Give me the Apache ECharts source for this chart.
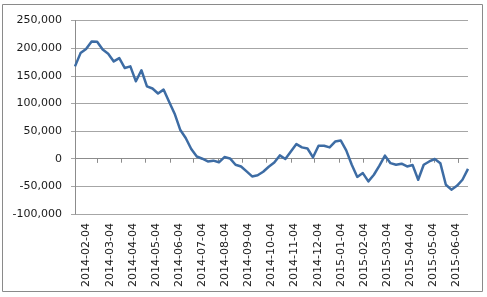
<!DOCTYPE html>
<html>
<head>
<meta charset="utf-8">
<script src="https://cdn.jsdelivr.net/npm/echarts@6/dist/echarts.min.js"></script>
<style>
  html, body { margin: 0; padding: 0; background: #fff; }
  #main { width: 487px; height: 297px; }
</style>
</head>
<body>
<div id="main"></div>
<script>
// weekly dates
var dates = [
  '2014-02-04', '2014-02-11', '2014-02-18', '2014-02-25',
  '2014-03-04', '2014-03-11', '2014-03-18', '2014-03-25',
  '2014-04-01', '2014-04-08', '2014-04-15', '2014-04-22', '2014-04-29',
  '2014-05-06', '2014-05-13', '2014-05-20', '2014-05-27',
  '2014-06-03', '2014-06-10', '2014-06-17', '2014-06-24',
  '2014-07-01', '2014-07-08', '2014-07-15', '2014-07-22', '2014-07-29',
  '2014-08-05', '2014-08-12', '2014-08-19', '2014-08-26',
  '2014-09-02', '2014-09-09', '2014-09-16', '2014-09-23', '2014-09-30',
  '2014-10-07', '2014-10-14', '2014-10-21', '2014-10-28',
  '2014-11-04', '2014-11-11', '2014-11-18', '2014-11-25',
  '2014-12-02', '2014-12-09', '2014-12-16', '2014-12-23', '2014-12-30',
  '2015-01-06', '2015-01-13', '2015-01-20', '2015-01-27',
  '2015-02-03', '2015-02-10', '2015-02-17', '2015-02-24',
  '2015-03-03', '2015-03-10', '2015-03-17', '2015-03-24', '2015-03-31',
  '2015-04-07', '2015-04-14', '2015-04-21', '2015-04-28',
  '2015-05-05', '2015-05-12', '2015-05-19', '2015-05-26',
  '2015-06-02', '2015-06-09', '2015-06-16'
];

var values = [
  167000, 191000, 198500, 212000, 211500, 197500, 190000, 176000,
  182000, 164000, 167000, 140000, 160000, 131000, 127000, 118000,
  125000, 103000, 81500, 52500, 37500, 17500, 4000, 0,
  -5000, -3500, -6500, 3000, 500, -11000, -14000, -23000,
  -32000, -30000, -23500, -14500, -7000, 6000, -500, 13000,
  26500, 20500, 18500, 2500, 23500, 23500, 20500, 31000,
  33000, 15000, -11000, -33000, -26000, -41000, -29000, -12500,
  5500, -8000, -11000, -9000, -14000, -11500, -38000, -11000,
  -5000, -500, -8000, -47000, -56000, -49000, -38000, -18500
];

// month labels on the bottom axis
var monthLabels = [
  '2014-02-04', '2014-03-04', '2014-04-04', '2014-05-04', '2014-06-04',
  '2014-07-04', '2014-08-04', '2014-09-04', '2014-10-04', '2014-11-04',
  '2014-12-04', '2015-01-04', '2015-02-04', '2015-03-04', '2015-04-04',
  '2015-05-04', '2015-06-04'
];

var yMin = -100000;
var yMax = 250000;
var yStep = 50000;

var chart = echarts.init(document.getElementById('main'));

function withCommas(v) {
  return String(v).replace(/\B(?=(\d{3})+(?!\d))/g, ',');
}

var tickValues = monthLabels.slice(1).map(function (d) {
  return echarts.time.parse(d).getTime();
});

var option = {
  animation: false,
  backgroundColor: '#fff',
  textStyle: { fontFamily: 'DejaVu Sans' },
  graphic: [{
    type: 'rect',
    shape: { x: 2.5, y: 4.5, width: 480, height: 287 },
    style: { fill: 'none', stroke: '#8a8a8a', lineWidth: 1 },
    silent: true
  }],
  grid: {
    left: 75,
    right: 19,
    top: 20.5,
    bottom: 83
  },
  xAxis: [
    {
      // data axis, line on zero with monthly ticks
      type: 'time',
      min: dates[0],
      max: dates[dates.length - 1],
      position: 'bottom',
      axisLine: { onZero: true, lineStyle: { color: '#8c8c8c', width: 1 } },
      axisTick: {
        show: true,
        length: 4,
        customValues: tickValues,
        lineStyle: { color: '#8c8c8c' }
      },
      axisLabel: { show: false },
      splitLine: { show: false }
    },
    {
      // labels only
      type: 'category',
      data: monthLabels,
      boundaryGap: true,
      position: 'bottom',
      axisLine: { show: false, onZero: false },
      axisTick: { show: false },
      axisLabel: {
        rotate: 90,
        interval: 0,
        margin: 9,
        fontSize: 11,
        fontFamily: 'DejaVu Sans',
        color: '#1a1a1a'
      },
      splitLine: { show: false }
    }
  ],
  yAxis: {
    type: 'value',
    min: yMin,
    max: yMax,
    interval: yStep,
    axisLine: { show: true, onZero: false, lineStyle: { color: '#8c8c8c' } },
    axisTick: { show: true, length: 4, lineStyle: { color: '#a6a6a6' } },
    axisLabel: {
      margin: 13,
      fontSize: 11,
      fontFamily: 'DejaVu Sans',
      color: '#1a1a1a',
      formatter: withCommas
    },
    splitLine: { show: true, lineStyle: { color: '#a6a6a6', width: 1 } }
  },
  series: [{
    type: 'line',
    xAxisIndex: 0,
    data: dates.map(function (d, i) { return [d, values[i]]; }),
    symbol: 'none',
    lineStyle: { color: '#3d6ca4', width: 2.5, join: 'round' },
    itemStyle: { color: '#3d6ca4' }
  }]
};

chart.setOption(option);
</script>
</body>
</html>
